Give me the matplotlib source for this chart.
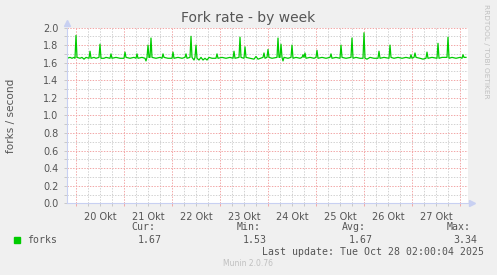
import matplotlib
matplotlib.use("Agg")
import matplotlib.pyplot as plt
from matplotlib.patches import Rectangle

# hours since 20 Okt 00:00, forks per second
hours = [-4.5, -3.0, -2.0, -1.0, -0.5, 0.0, 0.5, 2.0, 3.0, 4.0, 5.0, 6.5, 7.0, 7.5,
         9.0, 10.0, 11.5, 12.0, 12.5, 14.0, 15.0, 17.0, 17.5, 18.0, 20.0, 22.0,
         24.0, 24.5, 25.0, 27.0, 29.0, 30.0, 30.5, 31.0, 33.0, 34.5, 35.0, 35.5,
         36.0, 36.5, 37.0, 37.5, 38.0, 40.0, 42.0, 43.0, 43.5, 44.0, 46.0, 48.0,
         48.5, 49.0, 51.0, 53.0, 54.5, 55.0, 55.5, 57.0, 57.5, 58.0, 59.0, 59.5,
         60.0, 60.5, 61.5, 62.5, 63.5, 64.5, 65.5, 66.5, 68.0, 70.0, 70.5, 71.0,
         73.0, 75.0, 77.0, 78.5, 79.0, 79.5, 81.5, 82.0, 82.5, 84.0, 84.5, 85.0,
         87.0, 89.0, 90.0, 91.0, 93.5, 94.0, 94.5, 95.5, 96.0, 96.5, 98.0, 100.5,
         101.0, 101.5, 102.0, 102.5, 103.0, 103.5, 104.0, 106.0, 107.5, 108.0,
         108.5, 110.0, 112.0, 113.0, 113.5, 114.0, 114.5, 115.0, 117.0, 119.0,
         120.0, 120.5, 121.0, 123.0, 125.0, 127.0, 127.5, 128.0, 130.0, 132.0,
         132.5, 133.0, 135.0, 137.5, 138.0, 138.5, 140.0, 142.0, 143.5, 144.0,
         144.5, 145.5, 147.0, 149.0, 151.0, 151.5, 152.0, 154.0, 156.5, 157.0,
         157.5, 159.0, 161.0, 163.0, 165.0, 167.0, 167.5, 168.0, 169.0, 169.5,
         170.0, 172.0, 173.5, 175.0, 175.5, 176.0, 178.0, 180.5, 181.0, 181.5,
         183.0, 185.5, 186.0, 186.5, 188.0, 190.0, 192.0, 193.0, 193.5, 194.0,
         195.0]
forks = [1.65, 1.66, 1.65, 1.66, 1.65, 1.91, 1.66, 1.65, 1.66, 1.64, 1.66, 1.65, 1.73, 1.65,
         1.66, 1.65, 1.66, 1.81, 1.65, 1.65, 1.66, 1.65, 1.70, 1.65, 1.66, 1.65,
         1.65, 1.72, 1.66, 1.65, 1.66, 1.65, 1.70, 1.65, 1.66, 1.65, 1.62, 1.66,
         1.80, 1.66, 1.66, 1.88, 1.66, 1.65, 1.66, 1.65, 1.70, 1.66, 1.65, 1.65,
         1.72, 1.65, 1.66, 1.65, 1.66, 1.70, 1.65, 1.66, 1.90, 1.66, 1.63, 1.66,
         1.80, 1.65, 1.63, 1.66, 1.63, 1.65, 1.63, 1.66, 1.65, 1.65, 1.70, 1.65,
         1.66, 1.65, 1.66, 1.65, 1.73, 1.65, 1.66, 1.89, 1.66, 1.65, 1.78, 1.66,
         1.65, 1.64, 1.67, 1.64, 1.66, 1.71, 1.65, 1.66, 1.75, 1.66, 1.65, 1.66,
         1.88, 1.66, 1.66, 1.81, 1.66, 1.62, 1.66, 1.65, 1.66, 1.80,
         1.65, 1.66, 1.65, 1.66, 1.69, 1.66, 1.71, 1.65, 1.66, 1.65,
         1.66, 1.74, 1.65, 1.66, 1.65, 1.66, 1.70, 1.65, 1.66, 1.65,
         1.80, 1.66, 1.65, 1.66, 1.88, 1.65, 1.66, 1.65, 1.65, 1.94,
         1.65, 1.64, 1.66, 1.65, 1.65, 1.73, 1.65, 1.66, 1.65, 1.80,
         1.66, 1.65, 1.66, 1.65, 1.66, 1.65, 1.69, 1.65, 1.66, 1.71,
         1.66, 1.65, 1.64, 1.65, 1.72, 1.65, 1.66, 1.65, 1.82, 1.65,
         1.66, 1.66, 1.89, 1.65, 1.66, 1.65, 1.66, 1.65, 1.69, 1.66,
         1.66]

day_labels = ["20 Okt", "21 Okt", "22 Okt", "23 Okt", "24 Okt", "25 Okt", "26 Okt", "27 Okt"]
stat_names = ["Cur:", "Min:", "Avg:", "Max:"]
stat_values = ["1.67", "1.53", "1.67", "3.34"]

W, H = 497, 275
bg = "#f0f0f0"
txt = "#555555"
axis_col = "#c8d0f2"
green = "#00cc00"

fig = plt.figure(figsize=(W / 100, H / 100), dpi=100, facecolor=bg)
# plot box in pixels: x 67..467.5, y 27.5..203.3
ax = fig.add_axes([67 / W, 1 - 203.3 / H, 400.5 / W, 175.8 / H])
ax.set_facecolor("white")

ax.plot(hours, forks, color=green, lw=0.9, zorder=3)

ax.set_xlim(-4.5, 195.75)
ax.set_ylim(0, 2.0)

# grid: red major, grey minor, dotted
ax.set_xticks(range(0, 196, 24))
ax.set_xticks(range(6, 196, 6), minor=True)
ax.set_yticks([i / 10 for i in range(0, 21, 2)])
ax.set_yticks([i / 10 for i in range(1, 20, 2)], minor=True)
ax.grid(which="minor", color="#d2d2d2", linestyle=(0, (1.4, 1.4)), lw=0.72, zorder=1)
ax.grid(which="major", color="#f2a8a8", linestyle=(0, (1.4, 1.4)), lw=0.72, zorder=2)

ax.set_yticklabels([f"{v / 10:.1f}" for v in range(0, 21, 2)])
ax.set_xticklabels([])
for i, lab in enumerate(day_labels):
    ax.text(24 * i + 12, -0.05, lab, ha="center", va="top", fontsize=7, color=txt,
            transform=ax.get_xaxis_transform())

ax.tick_params(axis="both", which="both", length=2, width=0.7, colors="#c8c8c8",
               labelcolor=txt, labelsize=7, pad=4)
ax.tick_params(axis="x", which="major", colors="#f2a8a8", labelcolor=txt)

for s in ["top", "right"]:
    ax.spines[s].set_visible(False)
for s in ["left", "bottom"]:
    ax.spines[s].set_color(axis_col)
    ax.spines[s].set_linewidth(0.8)
    ax.spines[s].set_zorder(4)

# axis arrows
ax.plot([0], [1.025], marker="^", ms=4, color=axis_col, transform=ax.transAxes,
        clip_on=False, zorder=5)
ax.plot([1.012], [0], marker=">", ms=4, color=axis_col, transform=ax.transAxes,
        clip_on=False, zorder=5)

ax.set_ylabel("forks / second", fontsize=7.6, color=txt)
ax.yaxis.set_label_coords(-51 / 400.5, 0.5)

fig.text(248 / W, 1 - 18 / H, "Fork rate - by week", ha="center", va="center",
         fontsize=10, color=txt)
fig.text(486 / W, 1 - 4 / H, "RRDTOOL / TOBI OETIKER", rotation=270, ha="center",
         va="top", fontsize=5.3, color="#c0c0c0")

# legend / stats block
mono = "DejaVu Sans Mono"
fig.add_artist(Rectangle((14 / W, 1 - 243 / H), 6 / W, 6 / H, color=green,
                         transform=fig.transFigure))
fig.text(26.7 / W, 1 - 240 / H, "forks", fontsize=7.1, family=mono, color=txt, va="center")
for name, val, nx, vx in zip(stat_names, stat_values,
                             [131.7, 236.7, 341.7, 446.7], [137.7, 242.7, 348.3, 453.3]):
    fig.text(nx / W, 1 - 227.5 / H, name, fontsize=7.1, family=mono, color=txt, va="center")
    fig.text(vx / W, 1 - 240 / H, val, fontsize=7.1, family=mono, color=txt, va="center")
fig.text(261.7 / W, 1 - 252 / H, "Last update: Tue Oct 28 02:00:04 2025", fontsize=7.1,
         family=mono, color=txt, va="center")
fig.text(248 / W, 1 - 264 / H, "Munin 2.0.76", fontsize=5.5, color="#c0c0c0",
         ha="center", va="center")

fig.savefig("out.png", dpi=100, facecolor=bg)
